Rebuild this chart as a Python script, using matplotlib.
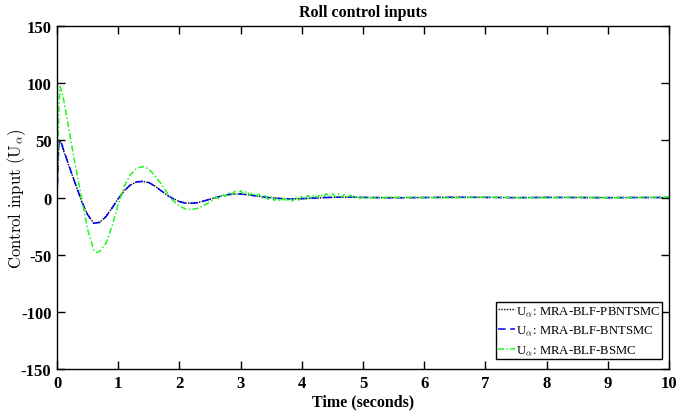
import matplotlib
matplotlib.use("Agg")
import matplotlib.pyplot as plt

plt.rcParams['mathtext.fontset'] = 'cm'
plt.rcParams['axes.unicode_minus'] = False

# time (s) and roll control input for the two NTSMC variants
t_smooth = [0, 0.03, 0.06, 0.1, 0.2, 0.3, 0.4, 0.5, 0.6, 0.7, 0.8, 0.9, 1.0,
            1.1, 1.2, 1.3, 1.4, 1.5, 1.6, 1.7, 1.8, 1.9, 2.0, 2.1, 2.2, 2.3,
            2.4, 2.5, 2.6, 2.7, 2.8, 2.9, 3.0, 3.1, 3.2, 3.3, 3.4, 3.5, 3.6,
            3.7, 3.8, 3.9, 4.0, 4.2, 4.4, 4.6, 4.8, 5.0, 5.5, 6.0, 6.5, 7.0,
            7.5, 8.0, 8.5, 9.0, 9.5, 10.0]
u_pbntsmc = [0, 47, 49, 42, 27, 12, -3, -15, -22.5, -21.5, -16.5, -9, -1,
             6, 11, 13.5, 14, 13, 10, 6, 2, -1, -3.5, -4.8, -5, -4.5,
             -3, -1.5, 0, 1.5, 2.5, 3, 3, 2.5, 1.8, 1, 0.3, -0.3, -0.7,
             -1, -1.2, -1.2, -1, -0.5, 0, 0.3, 0.3, 0.1, -0.2, 0, 0.2, 0.1,
             -0.1, 0.1, 0, -0.1, 0, 0]
u_bntsmc = [0, 48, 50, 43, 27, 12, -3, -15, -22.5, -21.8, -16.8, -9.2, -1.2,
            6, 11, 13.6, 14.2, 13.1, 10, 6, 2, -1.1, -3.6, -4.9, -5, -4.5,
            -3, -1.5, 0, 1.5, 2.6, 3.1, 3.1, 2.5, 1.8, 1, 0.3, -0.3, -0.7,
            -1, -1.2, -1.2, -1, -0.5, 0, 0.3, 0.3, 0.1, -0.2, 0, 0.2, 0.1,
            -0.1, 0.1, 0, -0.1, 0, 0]

# BSMC: larger swing and chattering between ~2.6 s and ~5.2 s
t_bsmc = [0, 0.03, 0.05, 0.1, 0.2, 0.3, 0.4, 0.5, 0.6, 0.65, 0.7, 0.8, 0.9,
          1.0, 1.1, 1.2, 1.3, 1.4, 1.5, 1.6, 1.7, 1.8, 1.9, 2.0, 2.1, 2.2,
          2.3, 2.4, 2.5,
          2.60, 2.65, 2.70, 2.75, 2.80, 2.85, 2.90, 2.95, 3.00, 3.05, 3.10,
          3.15, 3.20, 3.25, 3.30, 3.35, 3.40, 3.45, 3.50, 3.55, 3.60, 3.65,
          3.70, 3.75, 3.80, 3.85, 3.90, 3.95, 4.00, 4.05, 4.10, 4.15, 4.20,
          4.25, 4.30, 4.35, 4.40, 4.45, 4.50, 4.55, 4.60, 4.65, 4.70, 4.75,
          4.80, 4.85, 4.90, 4.95, 5.00, 5.05, 5.10, 5.15, 5.20,
          5.5, 6.0, 6.5, 7.0, 7.5, 8.0, 8.5, 9.0, 9.5, 10.0]
u_bsmc = [0, 80, 97, 88, 58, 28, 0, -28, -46, -48, -47, -40, -25,
          -6, 10, 20, 25.5, 27, 25, 19, 12, 4, -3, -7.5, -10, -10.5,
          -9.5, -7, -4,
          0.4, -1.2, 2.9, 0.9, 4.4, 2.1, 5.4, 2.9, 5.9, 3.0, 5.5,
          2.2, 4.4, 0.9, 3.0, -0.5, 1.7, -1.7, 0.6, -2.6, -0.2, -3.3,
          -0.6, -3.4, -0.5, -3.0, 0.1, -2.3, 0.9, -1.5, 1.7, -0.7, 2.4,
          -0.1, 3.0, 0.4, 3.4, 0.7, 3.5, 0.6, 3.3, 0.3, 2.8, -0.3,
          2.0, -0.5, 1.0, -0.8, 0.4, -0.8, 0.2, -0.6, -0.2,
          0.2, 0, -0.3, 0.3, 0, -0.3, 0.3, -0.2, 0, 0.3]

x_ticks = list(range(0, 11))
y_ticks = [-150, -100, -50, 0, 50, 100, 150]

fig = plt.figure(figsize=(6.91, 4.14), dpi=100)
ax = fig.add_axes([0.0825, 0.106, 0.8855, 0.829])

ax.plot(t_smooth, u_pbntsmc, color='black', linestyle=(0, (1, 1)),
        linewidth=1.0, label=r'U$_\alpha$: MRA-BLF-PBNTSMC')
ax.plot(t_smooth, u_bntsmc, color='blue', linestyle=(0, (5, 3)),
        linewidth=1.1, label=r'U$_\alpha$: MRA-BLF-BNTSMC')
ax.plot(t_bsmc, u_bsmc, color='#22f522', linestyle=(0, (4, 1.5, 1, 1.5)),
        linewidth=1.1, label=r'U$_\alpha$: MRA-BLF-BSMC')

ax.set_xlim(0, 10)
ax.set_ylim(-150, 150)
ax.set_xticks(x_ticks)
ax.set_yticks(y_ticks)
ax.tick_params(direction='in', top=True, right=True, length=6, width=1, pad=4)
for lab in ax.get_xticklabels() + ax.get_yticklabels():
    lab.set_fontfamily('Liberation Serif')
    lab.set_fontweight('bold')
    lab.set_fontsize(12)
for s in ax.spines.values():
    s.set_linewidth(1.0)

ax.set_title('Roll control inputs', fontfamily='Liberation Serif',
             fontweight='bold', fontsize=11.5, pad=7)
ax.set_xlabel('Time (seconds)', fontfamily='Liberation Serif',
              fontweight='bold', fontsize=11.5, labelpad=2)
ax.set_ylabel(r'Control input (U$_\alpha$)', fontfamily='cmr10',
              fontsize=12)
ax.yaxis.set_label_coords(-0.047, 0.5)

leg = ax.legend(loc='lower right', bbox_to_anchor=(0.9895, 0.029),
                borderaxespad=0, fancybox=False, framealpha=1,
                edgecolor='black',
                prop={'family': 'Liberation Serif', 'size': 9.2},
                handlelength=1.3, handletextpad=0.1, borderpad=0.15,
                labelspacing=0.5)
leg.get_frame().set_linewidth(1.0)

fig.savefig('out.png', dpi=100)
